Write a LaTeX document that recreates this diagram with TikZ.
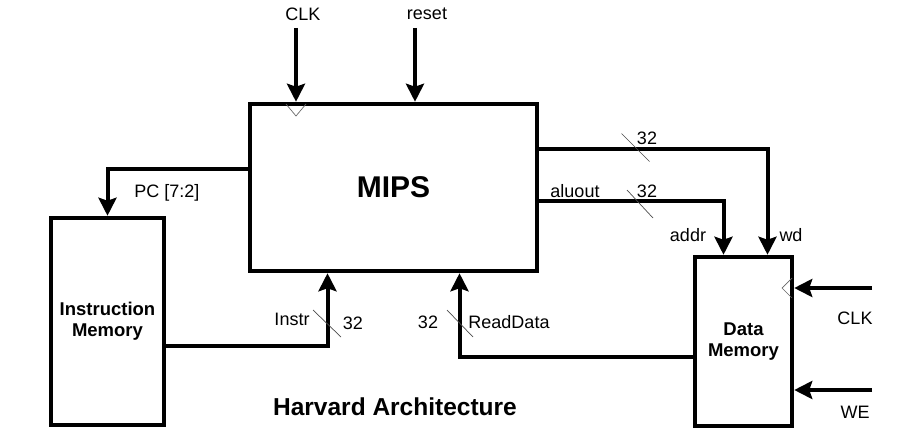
\documentclass[tikz,border=0pt]{standalone}
\usepackage{fontspec}
\setmainfont{Liberation Sans}
\usepackage{xcolor}
\usepackage[]{tikz}
\usetikzlibrary{positioning,calc}
\usetikzlibrary{arrows.meta}
\tikzset{box node/.style={draw,line width=4.5pt,inner sep=0pt,font=\fontsize{18.5}{21}\selectfont\bfseries,align=center}}
\tikzset{bus/.style={line width=4pt,-{Stealth[length=18pt,width=18pt,inset=3pt]}}}
\tikzset{sig label/.style={font=\fontsize{18}{20}\selectfont,inner sep=0pt}}
\tikzset{tick/.style={draw=black!70,line width=0.7pt}}
\tikzset{clock/.style={draw=black!60,line width=0.7pt}}

\begin{document}
\begin{tikzpicture}[x=1pt,y=-1pt]
      \useasboundingbox (0,0) rectangle (898,444);
      \node[box node,minimum width=287pt,minimum height=167pt] (mips) at (393.5,187.5) {\fontsize{30}{34}\selectfont MIPS};
      \node[box node,minimum width=113pt,minimum height=207pt] (imem) at (107.5,321.5) {Instruction\\Memory};
      \node[box node,minimum width=97pt,minimum height=169pt] (dmem) at (743.5,341.5) {Data\\Memory};
      % inputs on top
      \node[sig label] (clk) at (303,14) {CLK};
      \node[sig label] (reset) at (427,14) {reset};
      \coordinate (clkt) at (296,28);
      \coordinate (resett) at (415,28);
      \draw[bus] (clkt) -- (clkt |- mips.north);
      \draw[bus] (resett) -- (resett |- mips.north);
      \draw[clock] (286,104) -- (296,116) -- (306,104);
      % instruction side
      \draw[bus] ([yshift=18.5pt]mips.west) -| (imem.north);
      \node[sig label] (pc) at (167,193) {PC [7:2]};
      \draw[bus] ([yshift=-24pt]imem.east) -| ([xshift=-66pt]mips.south);
      \node[sig label] (instr) at (292,319) {Instr};
      \node[sig label] (instrw) at (353,323) {32};
      \draw[tick] (327,323.5) +(-14,-13.5) -- +(14,13.5);
      % data side
      \draw[bus] ([yshift=39pt]mips.east) -| ([xshift=24pt]dmem.north);
      \draw[bus] ([yshift=-13pt]mips.east) -| ([xshift=-20pt]dmem.north);
      \draw[tick] (635.5,147.5) +(-14,-14) -- +(14,14);
      \draw[tick] (640,204) +(-13,-14) -- +(13,14);
      \node[sig label] (wdw) at (647,138) {32};
      \node[sig label] (aluout) at (575,191) {aluout};
      \node[sig label] (aluw) at (647,191) {32};
      \node[sig label] (addr) at (688,235) {addr};
      \node[sig label] (wd) at (791,235) {wd};
      \draw[bus] ([yshift=-15pt]dmem.west) -| ([xshift=66pt]mips.south);
      \draw[tick] (460,323.5) +(-13,-13.5) -- +(13,13.5);
      \node[sig label] (rdw) at (428,322) {32};
      \node[sig label] (rdata) at (509,322) {ReadData};
      % memory control inputs
      \coordinate (clkin) at (872,288);
      \coordinate (wein) at (872,390);
      \draw[bus] (clkin) -- (clkin -| dmem.east);
      \draw[bus] (wein) -- (wein -| dmem.east);
      \draw[clock] (792,278) -- (782,288) -- (792,298);
      \node[sig label] (dclk) at (855,318) {CLK};
      \node[sig label] (we) at (855,412) {WE};
      \node[font=\fontsize{24.5}{28}\selectfont\bfseries] (title) at (395,407) {Harvard Architecture};
    \end{tikzpicture}
\end{document}
